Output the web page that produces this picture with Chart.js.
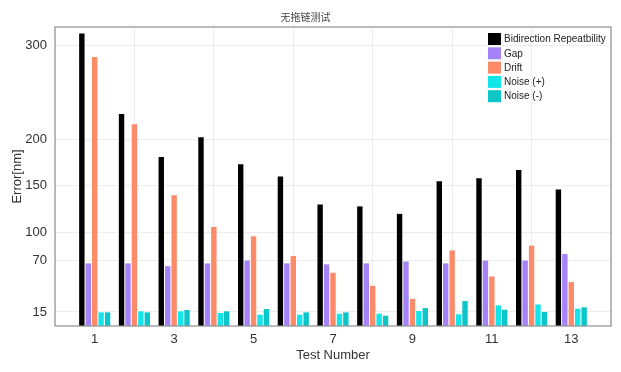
<!DOCTYPE html>
<html>
<head>
<meta charset="utf-8">
<script src="https://cdn.jsdelivr.net/npm/chart.js@4/dist/chart.umd.min.js"></script>
<style>
  html, body { margin: 0; padding: 0; background: #fff; }
  #wrap { width: 621px; height: 372px; }
</style>
</head>
<body>
<div id="wrap"><canvas id="chart"></canvas></div>
<script>
// Данные теста
const tests = [1, 2, 3, 4, 5, 6, 7, 8, 9, 10, 11, 12, 13];
const repeatability = [313, 227, 181, 202, 173, 160, 130, 128, 120, 155, 158, 167, 146];
const gap = [67, 67, 64, 67, 70, 67, 66, 67, 69, 67, 70, 70, 77];
const drift = [288, 216, 140, 106, 96, 75, 57, 43, 29, 81, 53, 86, 47];
const noisePlus = [14.6, 15.7, 15.7, 13.9, 12.1, 12.1, 13.2, 13.2, 16, 12.5, 22, 23, 18.5];
const noiseMinus = [14.6, 14.6, 17.1, 15.7, 18.2, 14.6, 14.6, 11, 19.2, 26.7, 17.4, 15, 20];
const xTicks = [1, 3, 5, 7, 9, 11, 13];
const yTicks = [15, 70, 100, 150, 200, 300];

const FONT = '"Liberation Sans", Arial, "Noto Sans CJK SC", sans-serif';

function series(label, values, color) {
    return {
        label: label,
        data: values.map((v, i) => ({ x: tests[i], y: v })),
        backgroundColor: color,
        borderWidth: 0,
        categoryPercentage: 0.81,
        barPercentage: 0.84
    };
}

// Рамка вокруг области графика и легенда внутри
const boxPlugin = {
    id: 'boxPlugin',
    afterDraw(chart) {
        const ctx = chart.ctx;
        const a = chart.chartArea;
        ctx.save();
        ctx.strokeStyle = '#8f8f8f';
        ctx.lineWidth = 1.2;
        ctx.strokeRect(a.left, a.top, a.right - a.left, a.bottom - a.top);

        const x0 = a.right - 123;
        let y0 = a.top + 6;
        ctx.font = '10px ' + FONT;
        ctx.textBaseline = 'middle';
        chart.data.datasets.forEach(ds => {
            ctx.fillStyle = ds.backgroundColor;
            ctx.fillRect(x0, y0, 13, 12);
            ctx.fillStyle = '#222';
            ctx.fillText(ds.label, x0 + 16, y0 + 6.5);
            y0 += 14.3;
        });
        ctx.restore();
    }
};

const chart = new Chart(document.getElementById('chart'), {
    type: 'bar',
    data: {
        datasets: [
            series('Bidirection Repeatbility', repeatability, '#000000'),
            series('Gap', gap, '#a582f7'),
            series('Drift', drift, '#fd8a68'),
            series('Noise (+)', noisePlus, '#12e6ea'),
            series('Noise (-)', noiseMinus, '#0bc6c8')
        ]
    },
    options: {
        responsive: true,
        maintainAspectRatio: false,
        animation: false,
        layout: { padding: { left: 0, right: 10, top: 0, bottom: 0 } },
        plugins: {
            legend: { display: false },
            tooltip: { enabled: false },
            title: {
                display: true,
                text: '无拖链测试',
                color: '#444',
                font: { family: FONT, size: 10, weight: 'normal' },
                padding: { top: 12, bottom: 3 }
            }
        },
        scales: {
            x: {
                type: 'linear',
                min: 0,
                max: 14,
                offset: false,
                afterBuildTicks: s => { s.ticks = xTicks.map(v => ({ value: v })); },
                afterFit: s => { s.height = 46; },
                ticks: {
                    color: '#333',
                    font: { family: FONT, size: 13 },
                    padding: 6
                },
                grid: { color: 'rgba(0,0,0,0.07)', drawTicks: false },
                border: { display: false },
                title: {
                    display: true,
                    text: 'Test Number',
                    color: '#333',
                    font: { family: FONT, size: 13 },
                    padding: { top: 0, bottom: 9 }
                }
            },
            y: {
                min: 0,
                max: 320,
                afterBuildTicks: s => { s.ticks = yTicks.map(v => ({ value: v })); },
                afterFit: s => { s.width = 55; },
                ticks: {
                    color: '#333',
                    font: { family: FONT, size: 13 },
                    padding: 8
                },
                grid: { color: 'rgba(0,0,0,0.07)', drawTicks: false },
                border: { display: false },
                title: {
                    display: true,
                    text: 'Error[nm]',
                    color: '#333',
                    font: { family: FONT, size: 13 },
                    padding: { top: 10, bottom: 0 }
                }
            }
        }
    },
    plugins: [boxPlugin]
});
</script>
</body>
</html>
